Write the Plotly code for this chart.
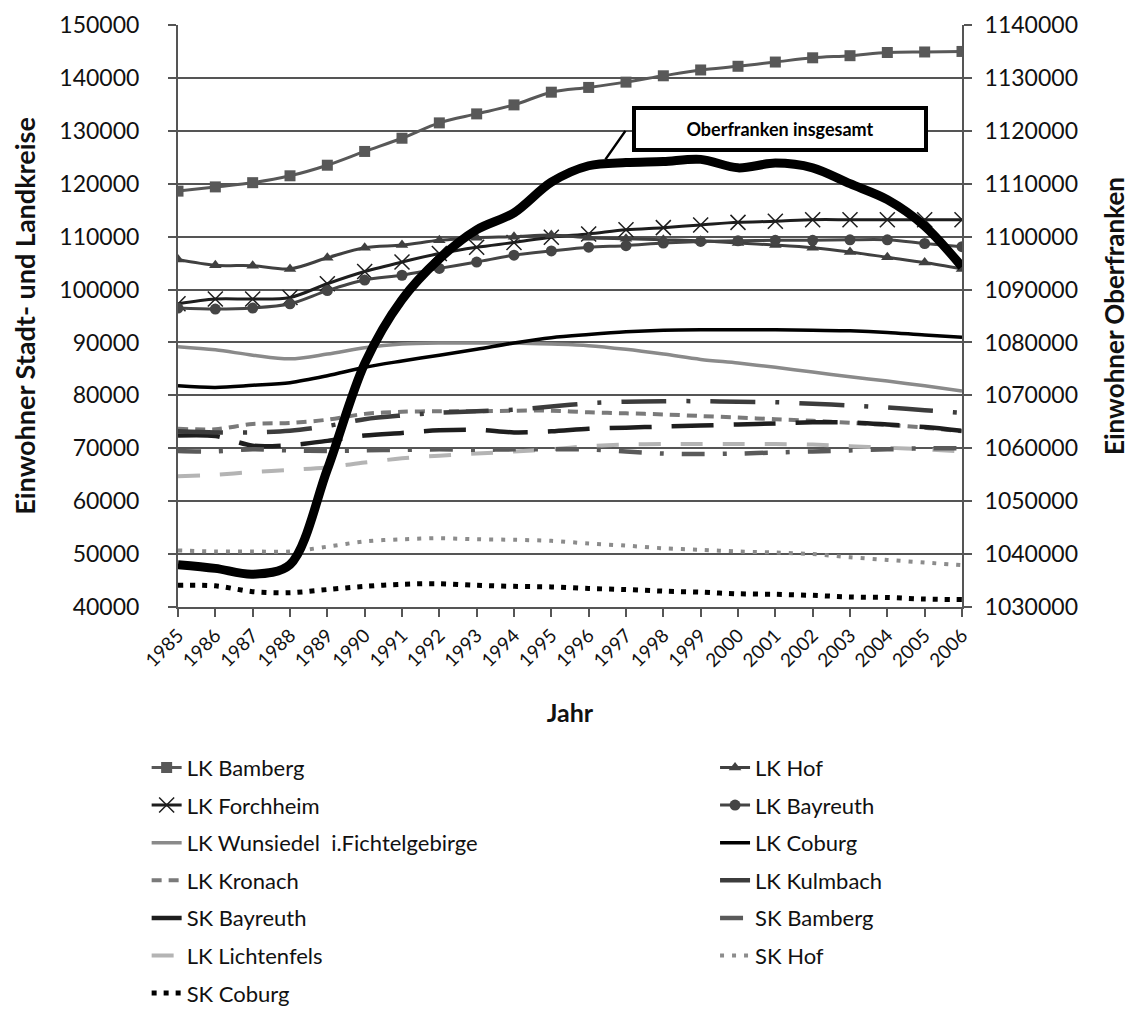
import plotly.graph_objects as go

years = list(range(1985, 2007))

# left axis: Stadt- und Landkreise
lk_bamberg = [118600, 119400, 120200, 121500, 123500, 126100, 128600, 131500, 133200, 134900, 137300,
              138200, 139200, 140400, 141500, 142200, 143000, 143800, 144200, 144800, 144900, 145000]
lk_hof = [105700, 104600, 104500, 103900, 106000, 107900, 108400, 109300, 109800, 110000, 110300,
          109800, 109600, 109400, 109200, 108800, 108400, 107900, 107100, 106100, 105100, 103900]
lk_forchheim = [97300, 98200, 98200, 98500, 101100, 103400, 105200, 106800, 108000, 108900, 109900,
                110500, 111300, 111700, 112200, 112700, 112900, 113200, 113200, 113200, 113200, 113200]
lk_bayreuth = [96500, 96300, 96500, 97300, 99800, 101800, 102700, 104000, 105200, 106500, 107300,
               108000, 108300, 108800, 109100, 109200, 109300, 109300, 109400, 109400, 108700, 108100]
lk_wunsiedel = [89200, 88600, 87600, 86900, 87800, 89000, 89700, 89900, 89900, 89900, 89700,
                89400, 88700, 87800, 86800, 86100, 85300, 84400, 83500, 82700, 81800, 80800]
lk_coburg = [81800, 81500, 81900, 82400, 83700, 85300, 86500, 87600, 88700, 89900, 90900,
             91500, 92000, 92300, 92400, 92400, 92400, 92300, 92200, 91900, 91400, 91000]
lk_kronach = [73700, 73600, 74600, 74800, 75400, 76500, 76900, 77000, 77000, 77100, 77100,
              76800, 76600, 76400, 76100, 75800, 75500, 75200, 74800, 74400, 73900, 73200]
lk_kulmbach = [73200, 73000, 73000, 73300, 74200, 75500, 76200, 76700, 77000, 77300, 77900,
               78500, 78800, 78900, 78900, 78800, 78700, 78400, 78100, 77700, 77200, 76700]
sk_bayreuth = [72400, 72300, 70500, 70600, 71400, 72400, 72900, 73400, 73500, 73000, 73200,
               73700, 73900, 74100, 74300, 74500, 74700, 74900, 74900, 74500, 74000, 73300]
sk_bamberg = [69500, 69400, 69800, 69600, 69500, 69600, 69700, 69800, 69700, 69800, 69800,
              69800, 69400, 69000, 68900, 69000, 69200, 69400, 69600, 69800, 70000, 70000]
lk_lichtenfels = [64700, 65000, 65500, 65900, 66400, 67300, 68100, 68600, 69000, 69400, 69800,
                  70400, 70700, 70800, 70800, 70800, 70800, 70700, 70400, 70100, 69800, 69400]
sk_hof = [50700, 50500, 50500, 50500, 51400, 52400, 52800, 53000, 52800, 52700, 52500,
          52000, 51600, 51100, 50800, 50500, 50300, 50000, 49400, 48900, 48400, 47900]
sk_coburg = [44100, 44000, 42900, 42700, 43300, 43900, 44300, 44400, 44100, 43900, 43800,
             43500, 43300, 43000, 42800, 42500, 42400, 42200, 41900, 41800, 41500, 41400]

# right axis: Oberfranken insgesamt
oberfranken = [1038000, 1037300, 1036200, 1038000, 1056000, 1076000, 1088100, 1095800, 1101300,
               1104500, 1110300, 1113400, 1114000, 1114200, 1114600, 1113000, 1113900, 1113000,
               1110000, 1107000, 1102000, 1094300]

FONT = "Lato"

# (name, values, color, width, dash, marker symbol, legend)
series = [
    ("LK Bamberg", lk_bamberg, "#585858", 3, "solid", "square", "legend"),
    ("LK Forchheim", lk_forchheim, "#1e1e1e", 3, "solid", "x-thin-open", "legend"),
    ("LK Wunsiedel  i.Fichtelgebirge", lk_wunsiedel, "#8a8a8a", 3.5, "solid", None, "legend"),
    ("LK Kronach", lk_kronach, "#7a7a7a", 4, "10px,7px", None, "legend"),
    ("SK Bayreuth", sk_bayreuth, "#1e1e1e", 4.5, "42px,20px", None, "legend"),
    ("LK Lichtenfels", lk_lichtenfels, "#b4b4b4", 4, "22px,20px", None, "legend"),
    ("SK Coburg", sk_coburg, "#000000", 5, "5px,7px", None, "legend"),
    ("LK Hof", lk_hof, "#404040", 3, "solid", "triangle-up", "legend2"),
    ("LK Bayreuth", lk_bayreuth, "#454545", 3, "solid", "circle", "legend2"),
    ("LK Coburg", lk_coburg, "#000000", 3.5, "solid", None, "legend2"),
    ("LK Kulmbach", lk_kulmbach, "#3c3c3c", 4.5, "45px,20px,4px,20px", None, "legend2"),
    ("SK Bamberg", sk_bamberg, "#5a5a5a", 4.5, "23px,18px,4px,18px", None, "legend2"),
    ("SK Hof", sk_hof, "#8c8c8c", 4, "4px,8px", None, "legend2"),
]

fig = go.Figure()

for name, vals, color, width, dash, symbol, leg in series:
    kw = dict(mode="lines")
    if symbol:
        kw["mode"] = "lines+markers"
        if symbol == "x-thin-open":
            kw["marker"] = dict(symbol=symbol, size=15, color=color, line=dict(width=1.5, color=color))
        else:
            kw["marker"] = dict(symbol=symbol, size=11, color=color)
    fig.add_trace(go.Scatter(
        x=years, y=vals, name=name, legend=leg, legendgroup=name,
        line=dict(color=color, width=width, dash=dash, shape="spline", smoothing=0.9),
        **kw,
    ))

fig.add_trace(go.Scatter(
    x=years, y=oberfranken, name="Oberfranken insgesamt", yaxis="y2", mode="lines",
    line=dict(color="#000000", width=9, shape="spline", smoothing=0.9),
    showlegend=False,
))

grid = "#555555"
# page body adds an 8px offset, so the figure is 8px smaller than the window
fig.update_layout(
    width=1135, height=1007,
    margin=dict(l=170, r=181, t=17, b=408, autoexpand=False),
    paper_bgcolor="white", plot_bgcolor="white",
    font=dict(family=FONT, color="#111111", size=23),
    xaxis=dict(
        range=[1985, 2006], tickvals=years, tickangle=-45,
        tickfont=dict(size=19, family=FONT), showgrid=False,
        showline=True, linecolor=grid, linewidth=2,
        ticks="outside", ticklen=8, tickcolor=grid, tickwidth=1.5,
        title=dict(text="<b>Jahr</b>", font=dict(size=25), standoff=34),
        zeroline=False, automargin=False,
    ),
    yaxis=dict(
        range=[40000, 150000], dtick=10000, tickformat="d",
        showgrid=True, gridcolor=grid, gridwidth=2,
        showline=True, linecolor=grid, linewidth=2,
        ticks="outside", ticklen=8, tickcolor=grid, tickwidth=2,
        ticklabelstandoff=24,
        title=dict(text="<b>Einwohner Stadt- und Landkreise</b>", font=dict(size=27), standoff=16),
        zeroline=False, automargin=False,
    ),
    yaxis2=dict(
        range=[1030000, 1140000], dtick=10000, tickformat="d",
        overlaying="y", side="right", showgrid=False,
        showline=True, linecolor=grid, linewidth=2,
        ticks="outside", ticklen=8, tickcolor=grid, tickwidth=2,
        ticklabelstandoff=8,
        title=dict(text="<b>Einwohner Oberfranken</b>", font=dict(size=26), standoff=29),
        zeroline=False, automargin=False,
    ),
    legend=dict(
        x=-0.040, xanchor="left", y=-0.24, yanchor="top",
        font=dict(size=22, family=FONT), traceorder="grouped", tracegroupgap=6,
        bgcolor="rgba(0,0,0,0)",
    ),
    legend2=dict(
        x=0.685, xanchor="left", y=-0.24, yanchor="top",
        font=dict(size=22, family=FONT), traceorder="grouped", tracegroupgap=6,
        bgcolor="rgba(0,0,0,0)",
    ),
    showlegend=True,
)

# label box and its leader line
fig.add_annotation(
    xref="paper", yref="paper", x=0.768, y=0.821, xanchor="center", yanchor="middle",
    text="<b>Oberfranken insgesamt</b>", showarrow=False,
    font=dict(size=18, family=FONT, color="#000000"),
    bgcolor="white", bordercolor="black", borderwidth=4, borderpad=8, width=272,
)
fig.add_annotation(
    xref="x", yref="y2", x=1996.45, y=1114600, text="",
    showarrow=True, arrowhead=0, arrowwidth=2.5, arrowcolor="black",
    ax=21, ay=-30,
)

fig.write_html("out.html")
